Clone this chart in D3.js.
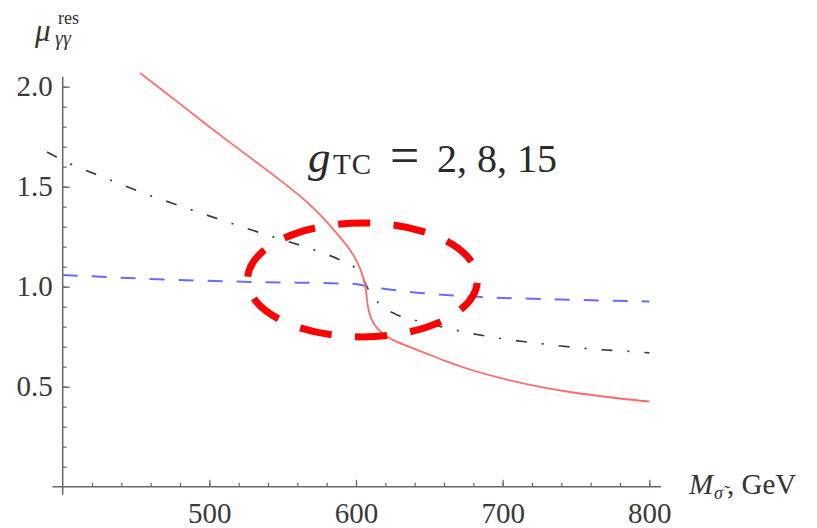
<!DOCTYPE html>
<html>
<head>
<meta charset="utf-8">
<script src="https://cdn.jsdelivr.net/npm/d3@7"></script>
<style>
  html, body { margin: 0; padding: 0; background: #fff; }
  svg { display: block; }
</style>
</head>
<body>
<div id="container"><svg></svg></div>
<script>
// curves (M in GeV, mu)
let red_x = [452.7, 480.0, 507.2, 534.5, 555.0, 568.6, 578.8, 587.7, 595.9, 601.4, 604.8, 606.8, 607.5, 608.9, 612.3, 617.7, 625.2, 634.8, 647.0, 660.7, 677.7, 698.2, 725.5, 752.8, 780.0, 800];
let red_y = [2.069, 1.914, 1.759, 1.609, 1.494, 1.409, 1.334, 1.259, 1.184, 1.114, 1.049, 0.984, 0.934, 0.874, 0.814, 0.769, 0.734, 0.704, 0.669, 0.629, 0.586, 0.544, 0.499, 0.466, 0.441, 0.426];

let blue_x = [400, 459.5, 527.7, 599.3, 606.1, 619.8, 643.6, 684.5, 739.1, 800];
let blue_y = [1.059, 1.039, 1.024, 1.014, 1.004, 0.989, 0.969, 0.949, 0.936, 0.926];

let black_x = [389.3, 407.0, 425.4, 454.7, 482.0, 514.1, 543.4, 573.4, 589.1, 599.3, 604.1, 607.5, 612.3, 618.4, 626.6, 636.8, 650.5, 664.1, 696.2, 727.5, 759.6, 791.7, 800];
let black_y = [1.673, 1.608, 1.554, 1.469, 1.399, 1.319, 1.249, 1.179, 1.134, 1.094, 1.049, 0.999, 0.944, 0.899, 0.864, 0.839, 0.814, 0.789, 0.744, 0.714, 0.689, 0.674, 0.669];

let x_ticks = [500, 600, 700, 800];
let y_ticks = [0.5, 1.0, 1.5, 2.0];
let x_minor = d3.range(420, 801, 20);
let y_minor = d3.range(1, 21).map(d => d / 10);

// highlighted region (ellipse), in data units
let ring = {cx: 604.4, cy: 1.034, rx: 78.4, ry: 0.285};

let fontFamily = "'Liberation Serif', 'DejaVu Serif', serif";

function draw_main(width, height) {
    let svg = d3.select('#container').select('svg')
        .attr('width', width)
        .attr('height', height)
        .style('font-family', fontFamily);

    let x = d3.scaleLinear().domain([400, 800]).range([62.7, 649.3]);
    let y = d3.scaleLinear().domain([0, 2]).range([486.7, 86.7]);

    let axis_color = '#666';
    let label_color = '#3a3a3a';

    // axis lines, a bit past the frame like the original
    svg.append('line')
        .attr('x1', x(393)).attr('x2', x(808))
        .attr('y1', y(0)).attr('y2', y(0))
        .attr('stroke', axis_color).attr('stroke-width', 1.5);
    svg.append('line')
        .attr('x1', x(400)).attr('x2', x(400))
        .attr('y1', y(-0.04)).attr('y2', y(2.05))
        .attr('stroke', axis_color).attr('stroke-width', 1.5);

    // minor ticks
    svg.append('g')
        .attr('transform', `translate(0, ${y(0)})`)
        .call(d3.axisBottom(x).tickValues(x_minor).tickSize(-4).tickFormat(''))
        .call(g => g.select('.domain').remove())
        .call(g => g.selectAll('line').attr('stroke', axis_color).attr('stroke-width', 1.2));
    svg.append('g')
        .attr('transform', `translate(${x(400)}, 0)`)
        .call(d3.axisLeft(y).tickValues(y_minor).tickSize(-4).tickFormat(''))
        .call(g => g.select('.domain').remove())
        .call(g => g.selectAll('line').attr('stroke', axis_color).attr('stroke-width', 1.2));

    // major ticks + labels
    svg.append('g')
        .attr('transform', `translate(0, ${y(0)})`)
        .call(d3.axisBottom(x).tickValues(x_ticks).tickSize(-7).tickPadding(16).tickFormat(d => d))
        .call(g => g.select('.domain').remove())
        .call(g => g.selectAll('line').attr('stroke', axis_color).attr('stroke-width', 1.2))
        .call(g => g.selectAll('text')
            .attr('fill', label_color)
            .attr('font-family', fontFamily)
            .attr('font-size', '29px'));
    svg.append('g')
        .attr('transform', `translate(${x(400)}, 0)`)
        .call(d3.axisLeft(y).tickValues(y_ticks).tickSize(-7).tickPadding(10).tickFormat(d3.format('.1f')))
        .call(g => g.select('.domain').remove())
        .call(g => g.selectAll('line').attr('stroke', axis_color).attr('stroke-width', 1.2))
        .call(g => g.selectAll('text')
            .attr('fill', label_color)
            .attr('font-family', fontFamily)
            .attr('font-size', '29px'));

    // y axis title  mu_{gamma gamma}^{res}
    let yt = svg.append('text')
        .attr('fill', '#333')
        .attr('font-family', fontFamily);
    yt.append('tspan').attr('x', 35).attr('y', 41)
        .attr('font-style', 'italic').attr('font-size', '31px').text('μ');
    yt.append('tspan').attr('x', 55).attr('y', 45)
        .attr('font-style', 'italic').attr('font-size', '20px').text('γγ');
    yt.append('tspan').attr('x', 58).attr('y', 24)
        .attr('font-size', '18px').text('res');

    // x axis title  M_{sigma~}, GeV
    let xt = svg.append('text')
        .attr('fill', '#333')
        .attr('font-family', fontFamily);
    xt.append('tspan').attr('x', 689).attr('y', 494)
        .attr('font-style', 'italic').attr('font-size', '29px').text('M');
    xt.append('tspan').attr('x', 714).attr('y', 499)
        .attr('font-style', 'italic').attr('font-size', '18px').text('σ\u0303');
    xt.append('tspan').attr('x', 727).attr('y', 494)
        .attr('font-size', '29px').text(', GeV');

    // curves
    let smooth = d3.line()
        .x(d => x(d[0]))
        .y(d => y(d[1]))
        .curve(d3.curveMonotoneX);
    // the red one turns back on itself, so it needs a parametric curve
    let bent = d3.line()
        .x(d => x(d[0]))
        .y(d => y(d[1]))
        .curve(d3.curveCatmullRom.alpha(0.5));

    svg.append('path')
        .datum(black_x.map((v, i) => [v, black_y[i]]))
        .attr('d', smooth)
        .attr('fill', 'none')
        .attr('stroke', '#3c3c3c')
        .attr('stroke-width', 1.7)
        .attr('stroke-dasharray', '11 15 2 15');

    svg.append('path')
        .datum(blue_x.map((v, i) => [v, blue_y[i]]))
        .attr('d', smooth)
        .attr('fill', 'none')
        .attr('stroke', '#6a6aff')
        .attr('stroke-width', 2)
        .attr('stroke-dasharray', '15 14');

    svg.append('path')
        .datum(red_x.map((v, i) => [v, red_y[i]]))
        .attr('d', bent)
        .attr('fill', 'none')
        .attr('stroke', '#ff6b6b')
        .attr('stroke-width', 1.8);

    // annotation text  g_TC = 2, 8, 15
    let an = svg.append('text')
        .attr('fill', '#2a2a2a')
        .attr('font-family', fontFamily);
    an.append('tspan').attr('x', 308).attr('y', 172)
        .attr('font-style', 'italic').attr('font-size', '45px').text('g');
    an.append('tspan').attr('x', 333).attr('y', 174)
        .attr('font-size', '29px').attr('letter-spacing', '1px').text('TC');
    an.append('tspan').attr('x', 390).attr('y', 173)
        .attr('font-size', '52px').text('=');
    an.append('tspan').attr('x', 437).attr('y', 172)
        .attr('font-size', '40px').text('2, 8, 15');

    // red dashed ellipse
    let rx = x(ring.cx + ring.rx) - x(ring.cx);
    let ry = y(ring.cy - ring.ry) - y(ring.cy);
    let circ = Math.PI * (3 * (rx + ry) - Math.sqrt((3 * rx + ry) * (rx + 3 * ry)));
    let period = circ / 10;
    svg.append('ellipse')
        .attr('cx', x(ring.cx))
        .attr('cy', y(ring.cy))
        .attr('rx', rx)
        .attr('ry', ry)
        .attr('fill', 'none')
        .attr('stroke', '#ff0000')
        .attr('stroke-width', 7)
        .attr('stroke-dasharray', `${period * 0.58} ${period * 0.42}`)
        .attr('stroke-dashoffset', -3);
}

draw_main(817, 528);
</script>
</body>
</html>
